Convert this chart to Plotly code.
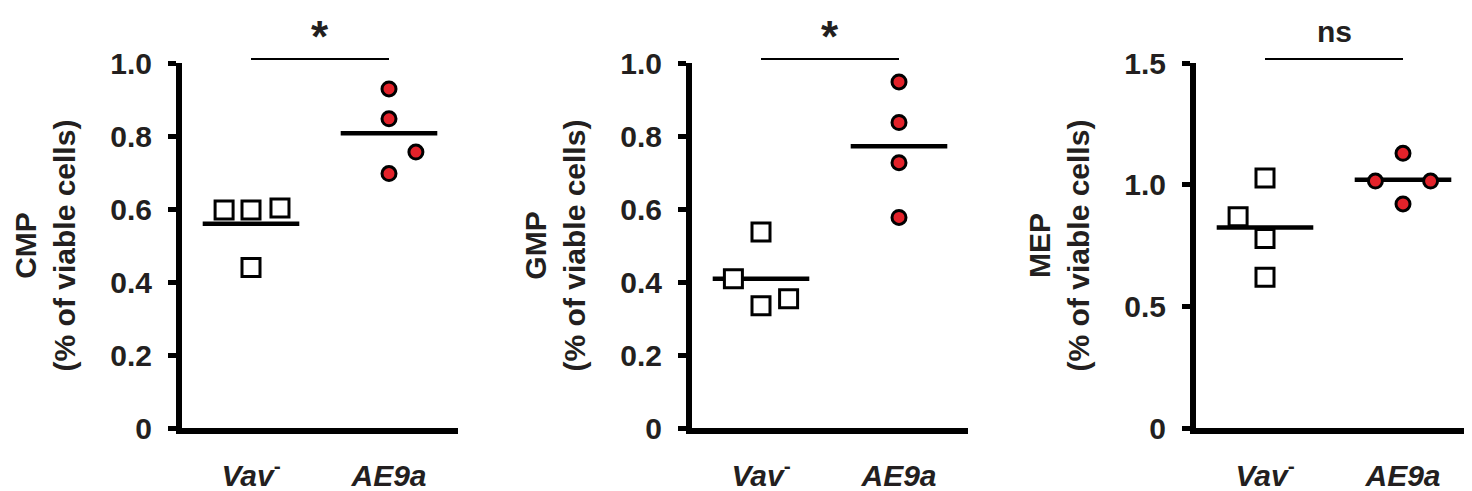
import numpy as np
import plotly.graph_objects as go

# ---------------- data ----------------
categories = ["Vav", "AE9a"]
cat_labels = ["<i>Vav</i><sup>-</sup>", "<i>AE9a</i>"]

cmp_vav = [0.597, 0.597, 0.603, 0.440]
cmp_ae9a = [0.929, 0.847, 0.756, 0.697]
gmp_vav = [0.409, 0.537, 0.335, 0.354]
gmp_ae9a = [0.948, 0.837, 0.727, 0.577]
mep_vav = [0.868, 1.027, 0.779, 0.620]
mep_ae9a = [1.015, 1.129, 1.015, 0.921]

titles = ["CMP", "GMP", "MEP"]
sig_labels = ["*", "*", "ns"]

ticks_01 = [0, 0.2, 0.4, 0.6, 0.8, 1.0]
ticktext_01 = ["0", "0.2", "0.4", "0.6", "0.8", "1.0"]
ticks_15 = [0, 0.5, 1.0, 1.5]
ticktext_15 = ["0", "0.5", "1.0", "1.5"]

# horizontal jitter (style) of points within each group
jit_cmp_vav = [-0.195, 0.0, 0.21, 0.0]
jit_cmp_ae9a = [0.0, 0.0, 0.195, 0.0]
jit_gmp_vav = [-0.2, 0.0, 0.0, 0.2]
jit_gmp_ae9a = [0.0, 0.0, 0.0, 0.0]
jit_mep_vav = [-0.195, 0.0, 0.0, 0.0]
jit_mep_ae9a = [-0.2, 0.0, 0.2, 0.0]

# ---------------- figure ----------------
FONT = "Liberation Sans, Arial, sans-serif"
TXT = "#231f20"
RED = "#e3222a"

panels = [
    (cmp_vav, cmp_ae9a, jit_cmp_vav, jit_cmp_ae9a, [0, 1.0], ticks_01, ticktext_01),
    (gmp_vav, gmp_ae9a, jit_gmp_vav, jit_gmp_ae9a, [0, 1.0], ticks_01, ticktext_01),
    (mep_vav, mep_ae9a, jit_mep_vav, jit_mep_ae9a, [0, 1.5], ticks_15, ticktext_15),
]

# page body has an 8px margin, so the figure is 8px smaller than the window
W, H = 1464, 483
PW = 276
lefts = [174, 684, 1188]
xdoms = [[l / W, min(1.0, (l + PW) / W)] for l in lefts]
ydom = [1 - 420 / H, 1 - 55 / H]

fig = go.Figure()
layout = dict(
    width=W, height=H,
    margin=dict(l=0, r=0, t=0, b=0, autoexpand=False),
    paper_bgcolor="white", plot_bgcolor="white",
    showlegend=False,
    font=dict(family=FONT, color=TXT),
)
shapes = []
annotations = []

for i, (vav, ae, jv, ja, yr, tv, tt) in enumerate(panels):
    n = "" if i == 0 else str(i + 1)
    xa, ya = "x" + n, "y" + n
    # mean lines
    for c, vals in enumerate([vav, ae]):
        m = float(np.mean(vals))
        fig.add_trace(go.Scatter(
            x=[c - 0.35, c + 0.35], y=[m, m], mode="lines",
            line=dict(color="black", width=4.5),
            xaxis=xa, yaxis=ya, hoverinfo="skip"))
    # points
    fig.add_trace(go.Scatter(
        x=[0 + j for j in jv], y=vav, mode="markers",
        marker=dict(symbol="square", size=18, color="white",
                    line=dict(color="black", width=3)),
        cliponaxis=False, xaxis=xa, yaxis=ya))
    fig.add_trace(go.Scatter(
        x=[1 + j for j in ja], y=ae, mode="markers",
        marker=dict(symbol="circle", size=14, color=RED,
                    line=dict(color="black", width=3)),
        cliponaxis=False, xaxis=xa, yaxis=ya))

    layout["xaxis" + n] = dict(
        domain=xdoms[i], anchor=ya, range=[-0.5, 1.5], automargin=False,
        tickvals=[0, 1], ticktext=cat_labels,
        showline=True, linecolor="black", linewidth=6,
        ticks="", showgrid=False, zeroline=False,
        tickfont=dict(size=30, family=FONT, color=TXT, weight="bold"),
        ticklabelstandoff=16,
    )
    layout["yaxis" + n] = dict(
        domain=ydom, anchor=xa, range=yr, automargin=False,
        tickvals=tv, ticktext=tt,
        showline=True, linecolor="black", linewidth=6,
        ticks="outside", ticklen=8, tickwidth=5, tickcolor="black",
        showgrid=False, zeroline=False,
        tickfont=dict(size=30, family=FONT, color=TXT, weight="bold"),
        ticklabelstandoff=10,
        title=dict(text=titles[i] + "<br>(% of viable cells)",
                   font=dict(size=30, family=FONT, color=TXT, weight="bold"),
                   standoff=28),
    )
    shapes.append(dict(type="line", xref=xa, yref=ya + " domain",
                       x0=0, x1=1, y0=1.011, y1=1.011,
                       line=dict(color="black", width=2)))
    is_ns = sig_labels[i] == "ns"
    annotations.append(dict(xref=xa, yref=ya + " domain", x=0.5,
                            y=1.036 if is_ns else 0.999,
                            text=sig_labels[i], showarrow=False,
                            yanchor="bottom",
                            font=dict(size=30 if is_ns else 44,
                                      family=FONT, color=TXT, weight="bold")))

layout["shapes"] = shapes
layout["annotations"] = annotations
fig.update_layout(**layout)

fig.write_html("out.html")
